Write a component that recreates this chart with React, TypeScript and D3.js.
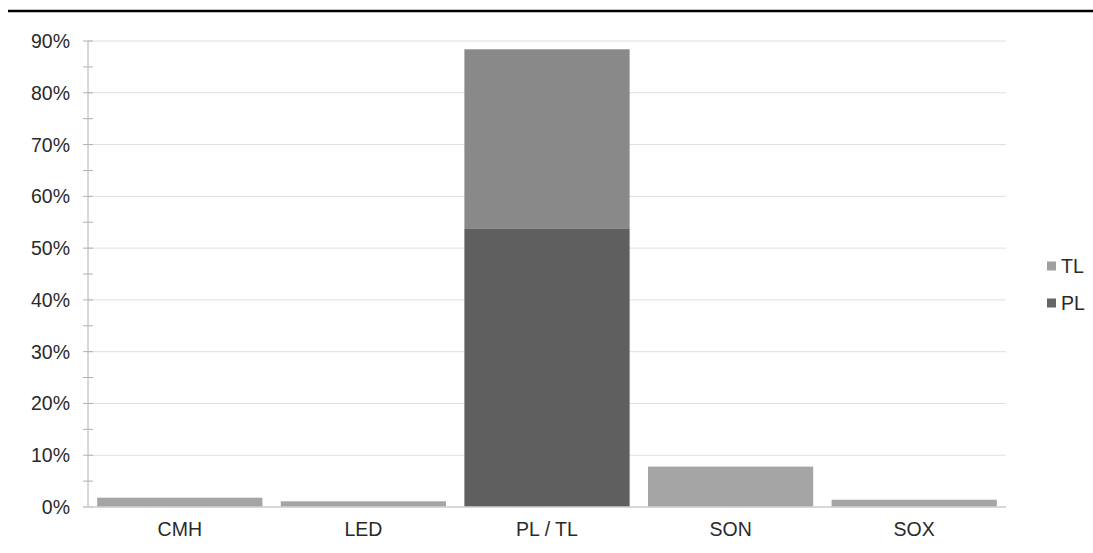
import React from "react";
import * as d3 from "d3";

const categories = ["CMH", "LED", "PL / TL", "SON", "SOX"];
const plValues = [0, 0, 53.7, 0, 0];
const tlValues = [1.8, 1.1, 34.7, 7.8, 1.4];
const tlBarColors = ["#a5a5a5", "#a5a5a5", "#898989", "#a5a5a5", "#a5a5a5"];
const plColor = "#5f5f5f";
const seriesNames = ["TL", "PL"];
const legendColors = ["#a0a0a0", "#666666"];
const yTicks = [0, 10, 20, 30, 40, 50, 60, 70, 80, 90];
const yMinorTicks = [5, 15, 25, 35, 45, 55, 65, 75, 85];

const W = 1093;
const H = 553;
const left = 88;
const right = 1006;
const top = 41;
const bottom = 507;
const font = "'Liberation Sans', Arial, sans-serif";
const fs = 19.5;

export default function App() {
  const x = d3.scaleBand<string>().domain(categories).range([left, right]).paddingInner(0.1).paddingOuter(0.05);
  const y = d3.scaleLinear().domain([0, 90]).range([bottom, top]);

  const rows = categories.map((c, i) => ({ cat: c, PL: plValues[i], TL: tlValues[i], idx: i }));
  const stack = d3.stack<any>().keys(["PL", "TL"]);
  const stacked = stack(rows);

  return (
    <svg width={W} height={H} style={{ position: "absolute", left: 0, top: 0, background: "#fff" }}>
      <rect x={0} y={0} width={W} height={H} fill="#fff" />
      <line x1={8} x2={W} y1={11} y2={11} stroke="#000" strokeWidth={2.5} />
      {yTicks.map((t) => (
        <line key={"g" + t} x1={left} x2={right} y1={y(t)} y2={y(t)} stroke="#e0e0e0" strokeWidth={1} />
      ))}
      {[...yTicks, ...yMinorTicks].map((t) => (
        <line key={"t" + t} x1={83} x2={93} y1={y(t)} y2={y(t)} stroke="#b0b0b0" strokeWidth={1} />
      ))}
      <line x1={left} x2={left} y1={y(90)} y2={bottom} stroke="#b0b0b0" strokeWidth={1} />
      {stacked.map((s) =>
        s.map((d: any) => {
          const i = d.data.idx;
          const h = y(d[0]) - y(d[1]);
          if (h <= 0) return null;
          const fill = s.key === "PL" ? plColor : tlBarColors[i];
          return (
            <rect
              key={s.key + i}
              x={x(categories[i])!}
              width={x.bandwidth()}
              y={y(d[1])}
              height={h}
              fill={fill}
            />
          );
        })
      )}
      <line x1={83} x2={right} y1={bottom} y2={bottom} stroke="#d0d0d0" strokeWidth={1.5} />
      {yTicks.map((t) => (
        <text
          key={"l" + t}
          x={70}
          y={y(t)}
          textAnchor="end"
          dominantBaseline="central"
          fontFamily={font}
          fontSize={fs}
          fill="#2a2a2a"
        >
          {t}%
        </text>
      ))}
      {categories.map((c) => (
        <text
          key={"c" + c}
          x={x(c)! + x.bandwidth() / 2}
          y={529}
          textAnchor="middle"
          dominantBaseline="central"
          fontFamily={font}
          fontSize={fs}
          fill="#2a2a2a"
        >
          {c}
        </text>
      ))}
      {seriesNames.map((n, i) => (
        <g key={"lg" + n} transform={`translate(1047, ${266 + i * 37})`}>
          <rect x={0} y={-4.5} width={9} height={9} fill={legendColors[i]} />
          <text x={14} y={0} dominantBaseline="central" fontFamily={font} fontSize={fs} fill="#2a2a2a">
            {n}
          </text>
        </g>
      ))}
    </svg>
  );
}
